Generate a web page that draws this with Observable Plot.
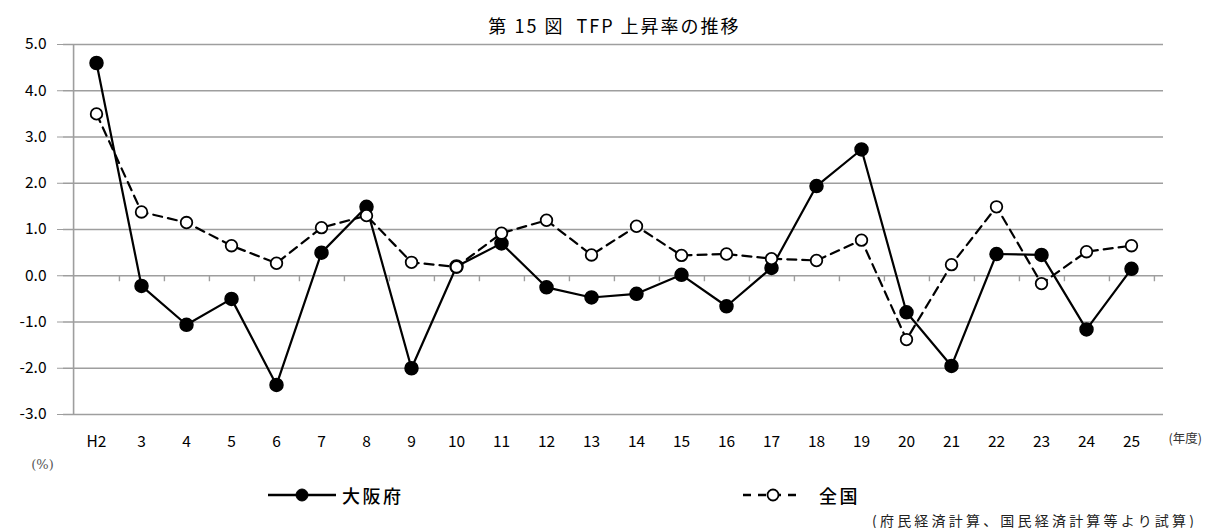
<!DOCTYPE html>
<html>
<head>
<meta charset="utf-8">
<script src="https://cdn.jsdelivr.net/npm/d3@7"></script>
<script src="https://cdn.jsdelivr.net/npm/@observablehq/plot@0.6"></script>
<style>
  html, body { margin: 0; padding: 0; background: #fff; }
  body { width: 1205px; height: 528px; overflow: hidden; position: relative;
         font-family: "Noto Sans CJK JP", "Noto Sans", sans-serif; color: #000; }
  #title { height: 28px; line-height: 22px; padding-top: 14px; box-sizing: border-box;
           text-align: center; font-size: 18px; letter-spacing: 2px; padding-left: 24px; white-space: nowrap; }
  #chart svg { display: block; }
  #legend { position: relative; height: 30px; font-size: 18px; letter-spacing: 2.5px; }
  .item { position: absolute; top: 0; height: 30px; display: flex; align-items: center; gap: 6px; }
  #note { position: absolute; left: 872px; top: 510px; font-size: 14px; letter-spacing: 3.2px; color: #222; white-space: nowrap; }
</style>
</head>
<body>
<div id="title">第 15 図 &nbsp;TFP 上昇率の推移</div>
<div id="chart"></div>
<div id="legend"></div>
<div id="note">(府民経済計算、国民経済計算等より試算)</div>
<script>
const years = ["H2","3","4","5","6","7","8","9","10","11","12","13","14","15","16","17","18","19","20","21","22","23","24","25"];
const osaka = [4.6,-0.22,-1.06,-0.5,-2.36,0.5,1.49,-2.0,0.2,0.7,-0.25,-0.47,-0.39,0.02,-0.66,0.17,1.94,2.73,-0.79,-1.95,0.47,0.45,-1.16,0.15];
const zenkoku = [3.5,1.38,1.15,0.65,0.27,1.04,1.3,0.29,0.19,0.92,1.2,0.45,1.07,0.44,0.47,0.37,0.33,0.77,-1.38,0.24,1.49,-0.17,0.52,0.65];
const yTicks = [-3,-2,-1,0,1,2,3,4,5];
const seriesNames = ["大阪府","全国"];

const dOsaka = years.map((y,i) => ({year: y, v: osaka[i]}));
const dZen = years.map((y,i) => ({year: y, v: zenkoku[i]}));

const W = 1205, H = 452, mL = 63, mR = 42, mT = 16, mB = 66;
const step = (W - mL - mR) / years.length;
const grid = "#9e9e9e";

const chart = Plot.plot({
  width: W, height: H,
  marginLeft: mL, marginRight: mR, marginTop: mT, marginBottom: mB,
  style: {fontFamily: "'Noto Sans CJK JP', 'Noto Sans', sans-serif", fontSize: "15px", color: "#000", background: "transparent", overflow: "visible"},
  x: {type: "point", domain: years, padding: 0.5, align: 0.5},
  y: {domain: [-3, 5]},
  marks: [
    Plot.ruleY(yTicks, {stroke: grid, strokeWidth: 1.6}),
    Plot.ruleX([years[0]], {dx: -step/2, y1: -3, y2: 5, stroke: grid, strokeWidth: 1.6}),
    Plot.ruleX(years, {dx: step/2, y1: 0, y2: -0.13, stroke: grid, strokeWidth: 1.4}),
    Plot.axisY({ticks: yTicks, tickFormat: d => d.toFixed(1), tickSize: 6, tickPadding: 11, stroke: grid, fontSize: 15.5, color: "#000", label: null}),
    Plot.axisX({tickSize: 0, tickPadding: 21, fontSize: 15.5, color: "#000", label: null}),
    Plot.text(["(年度)"], {frameAnchor: "bottom-right", dx: 5, dy: 28, textAnchor: "start", fontSize: 12.5, fill: "#333"}),
    Plot.text(["(%)"], {frameAnchor: "bottom-left", dx: -21, dy: 54, textAnchor: "middle", fontSize: 13, fill: "#555", fontFamily: "'DejaVu Serif', serif"}),
    Plot.line(dOsaka, {x: "year", y: "v", stroke: "#000", strokeWidth: 2.2}),
    Plot.line(dZen, {x: "year", y: "v", stroke: "#000", strokeWidth: 2.2, strokeDasharray: "9,6"}),
    Plot.dot(dOsaka, {x: "year", y: "v", r: 6.5, fill: "#000", stroke: "#000"}),
    Plot.dot(dZen, {x: "year", y: "v", r: 5.8, fill: "#fff", stroke: "#000", strokeWidth: 1.8})
  ]
});
document.getElementById("chart").append(chart);

// legend
const legend = document.getElementById("legend");
const lefts = [268, 743];
seriesNames.forEach((name, i) => {
  const item = document.createElement("div");
  item.className = "item";
  item.style.left = lefts[i] + "px";
  const sw = i === 0 ? 68 : 60;
  const svg = d3.create("svg").attr("width", sw).attr("height", 20);
  svg.append("line").attr("x1", 0).attr("x2", sw).attr("y1", 10).attr("y2", 10)
    .attr("stroke", "#000").attr("stroke-width", 2.5)
    .attr("stroke-dasharray", i === 0 ? null : "8,7");
  svg.append("circle").attr("cx", sw/2).attr("cy", 10).attr("r", i === 0 ? 6 : 5.5)
    .attr("fill", i === 0 ? "#000" : "#fff").attr("stroke", "#000").attr("stroke-width", i === 0 ? 1 : 1.8);
  item.append(svg.node());
  const t = document.createElement("span");
  t.textContent = name;
  t.style.fontWeight = "500";
  t.style.marginLeft = i === 0 ? "0px" : "10px";
  item.append(t);
  legend.append(item);
});
</script>
</body>
</html>
